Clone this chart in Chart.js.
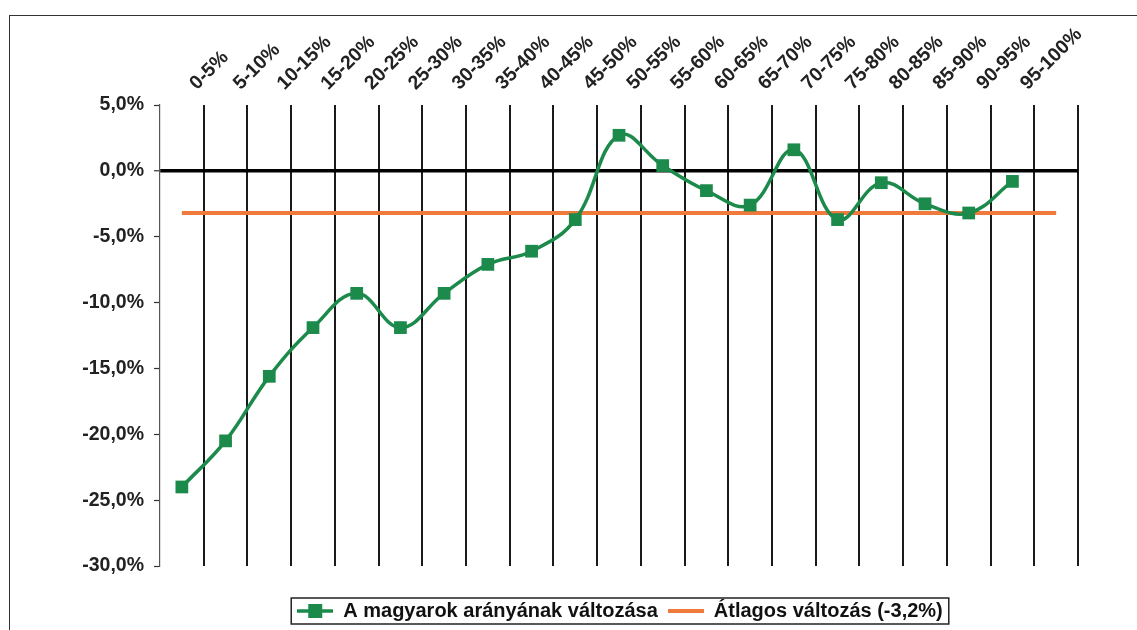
<!DOCTYPE html>
<html lang="hu">
<head>
<meta charset="UTF-8">
<title>A magyarok arányának változása</title>
<script src="https://cdn.jsdelivr.net/npm/chart.js"></script>
<style>
    html, body {
        margin: 0;
        padding: 0;
        background: #fff;
        overflow: hidden;
        width: 1137px;
        height: 630px;
    }
    .frame {
        position: absolute;
        left: 9px;
        top: 15px;
        width: 2000px;
        height: 2000px;
        border: 1.5px solid #333;
    }
    #chart {
        position: absolute;
        left: 0;
        top: 0;
    }
</style>
</head>
<body>
<div class="frame"></div>
<canvas id="chart" width="1240" height="630"></canvas>

<script>
// categories (last slot is empty, the average line reaches it)
const categories = ['0-5%', '5-10%', '10-15%', '15-20%', '20-25%', '25-30%', '30-35%', '35-40%',
    '40-45%', '45-50%', '50-55%', '55-60%', '60-65%', '65-70%', '70-75%', '75-80%',
    '80-85%', '85-90%', '90-95%', '95-100%', ''];

// change of the Hungarian share, %
const changeValues = [-24.0, -20.5, -15.6, -11.9, -9.3, -11.9, -9.3, -7.1, -6.1, -3.7,
    2.7, 0.4, -1.5, -2.6, 1.6, -3.7, -0.9, -2.5, -3.2, -0.8];

// average change, %
const averageValue = -3.2;
const averageValues = categories.map(() => averageValue);

const seriesNames = ['A magyarok arányának változása', 'Átlagos változás (-3,2%)'];
const yTicks = { min: -30, max: 5, step: 5 };

const GREEN = '#1b8a4b';
const ORANGE = '#f07a3c';
const FAMILY = 'Arial, "Liberation Sans", sans-serif';
const TICK_FONT = { family: FAMILY, size: 19.5, weight: 'bold' };
const LEGEND_FONT = { family: FAMILY, size: 20, weight: 'bold' };

// little legend swatches: line with square marker, plain line
function swatch(color, withMarker) {
    const c = document.createElement('canvas');
    c.width = 36;
    c.height = 14;
    const g = c.getContext('2d');
    g.strokeStyle = color;
    g.lineWidth = withMarker ? 3.5 : 4;
    g.beginPath();
    g.moveTo(0, 7);
    g.lineTo(36, 7);
    g.stroke();
    if (withMarker) {
        g.fillStyle = color;
        g.fillRect(11, 0, 14, 14);
    }
    return c;
}
const swatches = [swatch(GREEN, true), swatch(ORANGE, false)];

// push the legend a bit lower and draw a box round it
const legendFrame = {
    id: 'legendFrame',
    afterLayout(chart) {
        const lg = chart.legend;
        if (!lg) return;
        lg.top += 25;
        lg.bottom += 25;
    },
    afterDraw(chart) {
        const hb = chart.legend && chart.legend.legendHitBoxes;
        if (!hb || !hb.length) return;
        const first = hb[0], last = hb[hb.length - 1];
        const ctx = chart.ctx;
        ctx.save();
        ctx.strokeStyle = '#222';
        ctx.lineWidth = 1.5;
        ctx.strokeRect(first.left - 6, first.top - 3,
            last.left + last.width - first.left + 12, first.height + 6);
        ctx.restore();
    }
};

new Chart(document.getElementById('chart'), {
    type: 'line',
    data: {
        labels: categories,
        datasets: [{
            label: seriesNames[0],
            data: changeValues,
            borderColor: GREEN,
            backgroundColor: GREEN,
            borderWidth: 3.5,
            pointStyle: 'rect',
            pointRadius: 9,
            pointBackgroundColor: GREEN,
            pointBorderColor: GREEN,
            pointBorderWidth: 0,
            tension: 0.4,
            fill: false
        }, {
            label: seriesNames[1],
            data: averageValues,
            borderColor: ORANGE,
            backgroundColor: ORANGE,
            borderWidth: 4,
            pointRadius: 0,
            tension: 0,
            fill: false
        }]
    },
    options: {
        responsive: false,
        animation: false,
        layout: { padding: { left: 0, right: 0, top: 0, bottom: 24 } },
        plugins: {
            tooltip: { enabled: false },
            legend: {
                position: 'bottom',
                labels: {
                    usePointStyle: true,
                    pointStyleWidth: 36,
                    padding: 10,
                    color: '#111',
                    font: LEGEND_FONT,
                    generateLabels: () => seriesNames.map((name, i) => ({
                        text: name,
                        pointStyle: swatches[i],
                        fontColor: '#111',
                        fillStyle: 'transparent',
                        strokeStyle: 'transparent',
                        lineWidth: 0,
                        hidden: false,
                        datasetIndex: i
                    }))
                }
            }
        },
        scales: {
            x: {
                type: 'category',
                position: 'top',
                offset: true,
                border: { display: false },
                grid: {
                    offset: true,
                    drawTicks: false,
                    lineWidth: 2,
                    color: (c) => c.index === 0 ? 'rgba(0,0,0,0)' : '#1a1a1a'
                },
                ticks: {
                    autoSkip: false,
                    maxRotation: 45,
                    minRotation: 45,
                    padding: 10,
                    labelOffset: 28,
                    color: '#222',
                    font: TICK_FONT
                },
                afterFit: (s) => { s.height = 105; }
            },
            y: {
                min: yTicks.min,
                max: yTicks.max,
                border: { display: true, color: '#555', width: 1.2 },
                grid: {
                    drawTicks: true,
                    tickLength: 6,
                    tickColor: '#333',
                    tickWidth: 1.2,
                    color: (c) => c.tick && c.tick.value === 0 ? '#000' : 'rgba(0,0,0,0)',
                    lineWidth: (c) => c.tick && c.tick.value === 0 ? 3.5 : 1
                },
                ticks: {
                    stepSize: yTicks.step,
                    padding: 10,
                    color: '#222',
                    font: TICK_FONT,
                    callback: (v) => v.toFixed(1).replace('.', ',') + '%'
                },
                afterFit: (s) => { s.width = 160; }
            },
            // empty right axis, only to keep the plot where it is while the legend centres under 620px
            yR: {
                position: 'right',
                display: true,
                min: yTicks.min,
                max: yTicks.max,
                border: { display: false },
                grid: { drawOnChartArea: false, drawTicks: false },
                ticks: { display: false },
                afterFit: (s) => { s.width = 162; }
            }
        }
    },
    plugins: [legendFrame]
});
</script>
</body>
</html>
